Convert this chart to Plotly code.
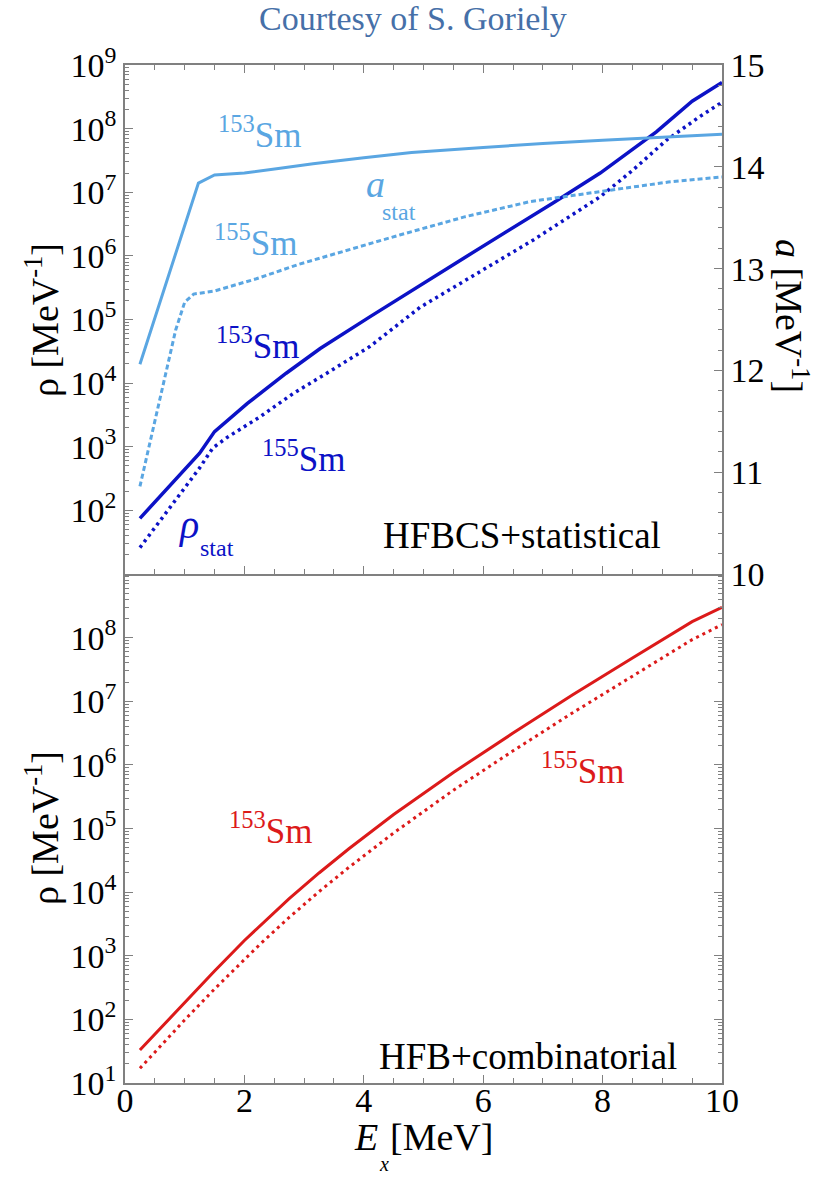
import plotly.graph_objects as go
from plotly.subplots import make_subplots

# ---- HFBCS + statistical model: level-density parameter a_stat [MeV^-1] (right axis)
x_a153 = [0.25, 1.23, 1.5, 2.0, 2.6, 3.15, 4.0, 4.8, 6.0, 7.0, 8.0, 9.0, 10.0]
a_153 = [12.06, 13.84, 13.92, 13.94, 13.985, 14.03, 14.09, 14.14, 14.19, 14.23, 14.26, 14.29, 14.32]
x_a155 = [0.25, 0.85, 1.0, 1.15, 1.5, 2.2, 2.9, 3.7, 4.6, 5.7, 6.8, 8.0, 9.1, 10.0]
a_155 = [10.86, 12.40, 12.67, 12.75, 12.78, 12.90, 13.04, 13.18, 13.33, 13.51, 13.66, 13.76, 13.85, 13.90]

# ---- HFBCS + statistical model: level density rho_stat [MeV^-1] (left axis)
x_rs153 = [0.25, 1.25, 1.5, 2.05, 2.7, 3.27, 4.1, 4.95, 5.72, 7.17, 7.96, 8.9, 9.5, 10.0]
rho_s153 = [75, 790, 1.73e3, 4.8e3, 1.43e4, 3.5e4, 1.1e5, 3.4e5, 9.8e5, 6.8e6, 2.0e7, 8.9e7, 2.7e8, 5.3e8]
x_rs155 = [0.25, 1.25, 1.47, 1.7, 2.26, 2.82, 3.38, 4.1, 4.94, 5.72, 6.84, 7.96, 8.51, 9.07, 9.63, 10.0]
rho_s155 = [26, 465, 955, 1.38e3, 2.95e3, 6.9e3, 1.43e4, 3.75e4, 1.55e5, 4.2e5, 1.78e6,
            8.5e6, 2.24e7, 6.6e7, 1.55e8, 2.6e8]

# ---- HFB + combinatorial model: level density [MeV^-1]
x_comb = [0.25, 0.75, 1.0, 1.5, 2.0, 2.25, 2.75, 3.25, 3.75, 4.5, 5.5, 6.5, 7.5, 8.5, 9.5, 10.0]
rho_c153 = [33, 105, 186, 575, 1.74e3, 2.9e3, 7.9e3, 2.0e4, 4.8e4, 1.66e5, 7.6e5,
            3.16e6, 1.26e7, 4.8e7, 1.78e8, 3.0e8]
rho_c155 = [17, 55, 98, 300, 890, 1.48e3, 4.0e3, 1.02e4, 2.45e4, 8.5e4, 4.0e5,
            1.66e6, 6.6e6, 2.5e7, 9.3e7, 1.6e8]

# Axis tick labels
top_decades = [2, 3, 4, 5, 6, 7, 8, 9]
bottom_decades = [1, 2, 3, 4, 5, 6, 7, 8]

LIGHT = "#5AA6E2"
DARK = "#0C12C6"
RED = "#DC1A1A"
AXIS = "#808080"
SERIF = "Liberation Serif"

W, H = 825, 1177
ML, MR, MT, MB = 125, 103, 65, 94


def px(xp):
    return (xp - ML) / (W - ML - MR)


def py(yp):
    return (H - MB - yp) / (H - MT - MB)


fig = make_subplots(rows=2, cols=1, shared_xaxes=True, vertical_spacing=0,
                    specs=[[{"secondary_y": True}], [{"secondary_y": False}]])

# Top panel
fig.add_trace(go.Scatter(x=x_a153, y=a_153, mode="lines",
                         line=dict(color=LIGHT, width=3)), row=1, col=1, secondary_y=True)
fig.add_trace(go.Scatter(x=x_a155, y=a_155, mode="lines",
                         line=dict(color=LIGHT, width=3, dash="5px,3px")), row=1, col=1, secondary_y=True)
fig.add_trace(go.Scatter(x=x_rs153, y=rho_s153, mode="lines",
                         line=dict(color=DARK, width=3.5)), row=1, col=1, secondary_y=False)
fig.add_trace(go.Scatter(x=x_rs155, y=rho_s155, mode="lines",
                         line=dict(color=DARK, width=3.5, dash="3px,4px")), row=1, col=1, secondary_y=False)

# Bottom panel
fig.add_trace(go.Scatter(x=x_comb, y=rho_c153, mode="lines",
                         line=dict(color=RED, width=3)), row=2, col=1)
fig.add_trace(go.Scatter(x=x_comb, y=rho_c155, mode="lines",
                         line=dict(color=RED, width=3, dash="3px,4px")), row=2, col=1)

tickfont = dict(family=SERIF, size=34, color="black")


def log_minor(decades):
    vals = []
    for d in range(decades[0] - 1, decades[-1] + 1):
        for m in range(2, 10):
            vals.append(m * 10 ** d)
    return vals


common_x = dict(range=[0, 10], domain=[0.0, 1.0], showline=True, linecolor=AXIS, linewidth=1.5,
                ticks="inside", ticklen=8, tickcolor=AXIS, tick0=0, dtick=2,
                minor=dict(dtick=0.5, ticks="inside", ticklen=5, tickcolor=AXIS),
                showgrid=False, zeroline=False, tickfont=tickfont, automargin=False)
fig.update_xaxes(**common_x)
fig.update_xaxes(mirror="ticks", row=1, col=1)
fig.update_xaxes(mirror=False, ticklabelstandoff=-14, row=2, col=1)

fig.update_layout(
    yaxis=dict(type="log", range=[1, 9], tickmode="array",
               tickvals=[10 ** d for d in top_decades],
               ticktext=["10<sup>%d</sup>" % d for d in top_decades],
               showline=True, mirror=True, linecolor=AXIS, linewidth=1.5,
               ticks="inside", ticklen=8, tickcolor=AXIS,
               minor=dict(tickmode="array", tickvals=log_minor(top_decades),
                          ticks="inside", ticklen=4, tickcolor=AXIS),
               showgrid=False, zeroline=False, tickfont=tickfont, automargin=False),
    yaxis2=dict(range=[10, 15], dtick=1, tick0=10, showline=True, linecolor=AXIS, linewidth=1.5,
                ticks="inside", ticklen=8, tickcolor=AXIS,
                minor=dict(dtick=0.2, ticks="inside", ticklen=4, tickcolor=AXIS),
                showgrid=False, zeroline=False, tickfont=tickfont, automargin=False),
    yaxis3=dict(type="log", range=[1, 9], tickmode="array",
                tickvals=[10 ** d for d in bottom_decades],
                ticktext=["10<sup>%d</sup>" % d for d in bottom_decades],
                showline=True, mirror="ticks", linecolor=AXIS, linewidth=1.5,
                ticks="inside", ticklen=8, tickcolor=AXIS,
                minor=dict(tickmode="array", tickvals=log_minor(bottom_decades + [9]),
                           ticks="inside", ticklen=4, tickcolor=AXIS),
                showgrid=False, zeroline=False, tickfont=tickfont, automargin=False),
)
fig.update_yaxes(domain=[0.5, 1.0], row=1, col=1)
fig.update_yaxes(domain=[0.0, 0.5], row=2, col=1)

ann = []


def text(xp, yp, s, size, color="black", angle=0):
    ann.append(dict(x=px(xp), y=py(yp), xref="paper", yref="paper", text=s,
                    showarrow=False, textangle=angle, xanchor="center", yanchor="middle",
                    font=dict(family=SERIF, size=size, color=color)))


text(413, 18, "Courtesy of S. Goriely", 34, "#4670A8")

# Top panel labels
text(259, 133, "<sup>153</sup>Sm", 35, LIGHT)
text(255, 240, "<sup>155</sup>Sm", 35, LIGHT)
text(375, 184, "<i>a</i>", 38, LIGHT)
text(399, 212, "stat", 24, LIGHT)
text(257, 343, "<sup>153</sup>Sm", 35, DARK)
text(303, 456, "<sup>155</sup>Sm", 35, DARK)
text(188, 524, "<i>ρ</i>", 40, DARK)
text(217, 548, "stat", 24, DARK)
text(522, 535, "HFBCS+statistical", 37)

# Bottom panel labels
text(270, 828, "<sup>153</sup>Sm", 35, RED)
text(582, 768, "<sup>155</sup>Sm", 35, RED)
text(528, 1056, "HFB+combinatorial", 37)

# Axis titles
text(42, 320, "ρ [MeV<sup>-1</sup>]", 38, angle=-90)
text(42, 828, "ρ [MeV<sup>-1</sup>]", 38, angle=-90)
text(792, 316, "<i>a</i> [MeV<sup>-1</sup>]", 38, angle=90)
text(366, 1137, "<i>E</i>", 38)
text(384, 1164, "<i>x</i>", 20)
text(441, 1137, "[MeV]", 38)

fig.update_layout(
    width=W, height=H, autosize=False,
    margin=dict(l=ML, r=MR, t=MT, b=MB, autoexpand=False),
    paper_bgcolor="white", plot_bgcolor="white",
    showlegend=False, annotations=ann,
)

fig.write_html("out.html")
